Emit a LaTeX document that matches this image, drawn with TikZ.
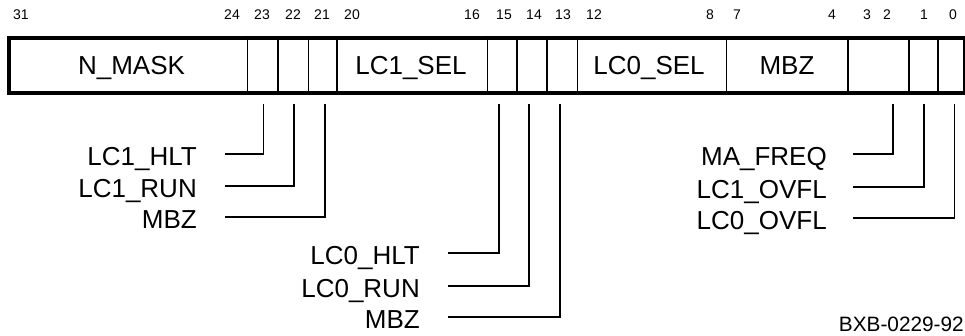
\documentclass[tikz,border=0pt]{standalone}
\usepackage{fontspec}
\setmainfont{Liberation Sans}
\begin{document}
\begin{tikzpicture}[x=1pt,y=-1pt,
  thinline/.style={line width=1.2pt,black},
  bitnum/.style={inner sep=0pt,anchor=base,font=\fontsize{14}{16}\selectfont},
  field/.style={inner sep=0pt,anchor=base,font=\fontsize{26}{30}\selectfont},
  lbl/.style={inner sep=0pt,anchor=base east,font=\fontsize{26}{30}\selectfont},
  fig/.style={inner sep=0pt,anchor=base east,font=\fontsize{20.8}{24}\selectfont}]
\useasboundingbox (0,0) rectangle (965,335);
% register box
\node[draw,line width=4pt,minimum width=956pt,minimum height=55pt,inner sep=0pt,anchor=north west] (reg) at (7,35.5) {};
% dividers
\foreach \x in {247.5,278,308.5,337,487.5,517,547,577.5,726.5,848,909,938}
  \draw[thinline] (\x,35.5) -- (\x,90.5);
% bit numbers
\foreach \b/\x in {31/21,24/232,23/262,22/293,21/322,20/352,16/472,15/504,14/534,13/563,12/594,8/710,7/737,4/832,3/867,2/887,1/924,0/953}
  \node[bitnum] (b\b) at (\x,19.5) {\b};
% field names
\node[field] (nmask) at (131.5,74) {N\_MASK};
\node[field] (lc1sel) at (411,74) {LC1\_SEL};
\node[field] (lc0sel) at (649,74) {LC0\_SEL};
\node[field] (mbzf) at (787,74) {MBZ};
% tick tops
\coordinate (t23) at (263.5,104);
\coordinate (t22) at (294,104);
\coordinate (t21) at (325,104);
\coordinate (t15) at (499,104);
\coordinate (t14) at (529,104);
\coordinate (t13) at (560,104);
\coordinate (t2) at (893,104);
\coordinate (t1) at (924,104);
\coordinate (t0) at (954.5,104);
% labels
\node[lbl] (l23) at (197,165) {LC1\_HLT};
\node[lbl] (l22) at (197,197) {LC1\_RUN};
\node[lbl] (l21) at (197,228) {MBZ};
\node[lbl] (l15) at (420,264) {LC0\_HLT};
\node[lbl] (l14) at (420,297) {LC0\_RUN};
\node[lbl] (l13) at (420,328) {MBZ};
\node[lbl] (l2) at (827,165) {MA\_FREQ};
\node[lbl] (l1) at (827,198) {LC1\_OVFL};
\node[lbl] (l0) at (827,229) {LC0\_OVFL};
% connectors
\draw[thinline] (l23.base east) ++(28,-11) -| (t23);
\draw[thinline] (l22.base east) ++(28,-11) -| (t22);
\draw[thinline] (l21.base east) ++(28,-11) -| (t21);
\draw[thinline] (l15.base east) ++(28,-11) -| (t15);
\draw[thinline] (l14.base east) ++(28,-11) -| (t14);
\draw[thinline] (l13.base east) ++(28,-11) -| (t13);
\draw[thinline] (l2.base east) ++(26,-11) -| (t2);
\draw[thinline] (l1.base east) ++(26,-11) -| (t1);
\draw[thinline] (l0.base east) ++(26,-11) -| (t0);
% figure id
\node[fig] (figid) at (964,331) {BXB-0229-92};
\end{tikzpicture}
\end{document}
